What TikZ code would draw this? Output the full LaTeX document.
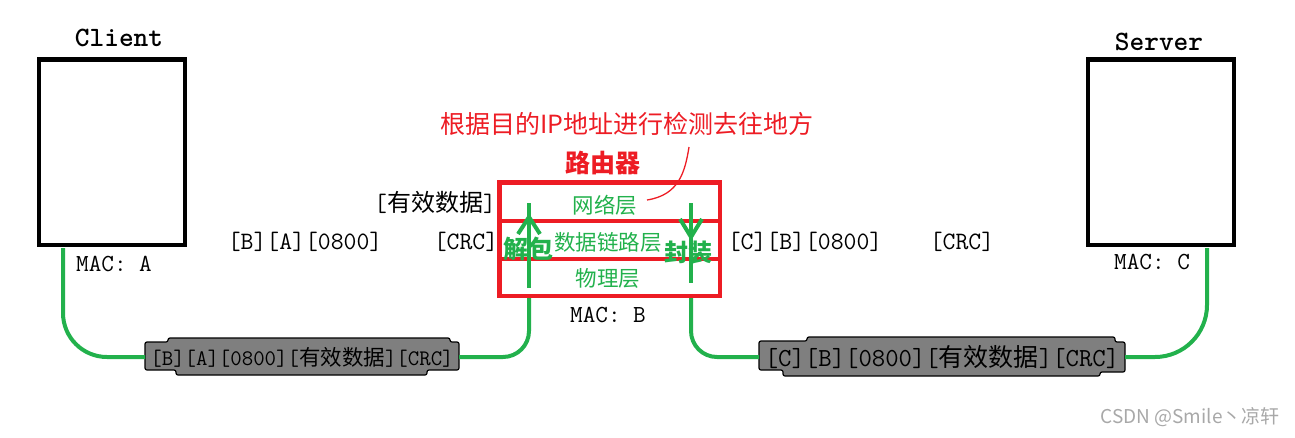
\documentclass[tikz,border=0pt]{standalone}
\usepackage{fontspec}
\newfontfamily\cjk{Noto Sans CJK SC}
\newfontfamily\wmfont{Noto Sans CJK SC}
\definecolor{pgreen}{HTML}{22B14C}
\definecolor{pred}{HTML}{ED1C24}
\definecolor{pgray}{HTML}{7F7F7F}
\definecolor{wmgray}{HTML}{A8A8A8}
\newcommand\cn[2]{{\cjk\fontsize{#1}{#1}\selectfont #2}}
\newcommand\mono[1]{\ttfamily\fontsize{#1}{#1}\selectfont}
\begin{document}
\begin{tikzpicture}[x=1pt,y=-1pt,inner sep=0pt,outer sep=0pt,
  hostbox/.style={draw=black,line width=4.5pt,minimum width=146pt,minimum height=185.5pt},
  hostlabel/.style={font=\mono{28}\bfseries},
  maclabel/.style={font=\mono{24.5}},
  routerbox/.style={draw=pred,line width=4.5pt,minimum width=220.5pt,minimum height=113.5pt},
  divider/.style={draw=pred,line width=4.5pt},
  layertext/.style={text=pgreen},
  cable/.style={draw=pgreen,line width=4pt},
  pillshape/.style={fill=pgray,draw=black,line width=1.2pt,rounded corners=2pt},
  pilltext/.style={text=black},
  frametext/.style={text=black}]
\useasboundingbox (0,0) rectangle (1295,437);

% hosts
\node[hostbox] (client) at (112,152) {};
\node[hostbox] (server) at (1161,152) {};
\node[hostlabel] (clientlbl) at (119,38) {Client};
\node[hostlabel] (serverlbl) at (1159,42) {Server};
\node[maclabel] (maca) at (114,264) {MAC: A};
\node[maclabel] (macc) at (1152,262) {MAC: C};
\node[maclabel] (macb) at (608,315) {MAC: B};

% router
\node[routerbox] (router) at (609.5,239) {};
\draw[divider] (router.west |- 0,221) -- (router.east |- 0,221);
\draw[divider] (router.west |- 0,259) -- (router.east |- 0,259);
\node[font=\cjk\fontsize{25}{25}\selectfont\bfseries,text=pred] (rtitle) at (603,163) {路由器};
\node[layertext,font=\cjk\fontsize{21.5}{21.5}\selectfont] (net) at (605,205) {网络层};
\node[layertext,font=\cjk\fontsize{21.5}{21.5}\selectfont] (dl) at (608,242) {数据链路层};
\node[layertext,font=\cjk\fontsize{21.5}{21.5}\selectfont] (phy) at (608,278) {物理层};

% annotation
\node[text=pred,font=\cjk\fontsize{25}{25}\selectfont] (anno) at (627,124) {根据目的IP地址进行检测去往地方};
\coordinate (a1) at (689,147);
\coordinate (a2) at (647,200);
\draw[pred,line width=1.3pt] (a1) .. controls (685,172) and (679,195) .. (a2);

% frame pieces
\node[frametext,font=\mono{25}] (data) at (435,202) {[\cn{24}{有效数据}]};
\node[frametext,font=\mono{25}] (hdrl) at (305,242) {[B][A][0800]};
\node[frametext,font=\mono{25}] (crcl) at (466,242) {[CRC]};
\node[frametext,font=\mono{25}] (hdrr) at (805,242) {[C][B][0800]};
\node[frametext,font=\mono{25}] (crcr) at (962,242) {[CRC]};

% pills
\draw[pillshape] (145,342) -- (145,370) -- (176,370) -- (176,375) -- (427,375) -- (427,370) -- (459,370) -- (459,342) -- (450,342) -- (450,338) -- (168,338) -- (168,342) -- cycle;
\draw[pillshape] (759,341) -- (759,370) -- (783,370) -- (783,376) -- (1100,376) -- (1100,372) -- (1125,372) -- (1125,342) -- (1115,342) -- (1115,337) -- (807,337) -- (807,341) -- cycle;
\node[pilltext,font=\mono{22.2},minimum width=314pt,minimum height=37pt] (p1) at (302,357) {[B][A][0800][\cn{21.5}{有效数据}][CRC]};
\node[pilltext,font=\mono{26},minimum width=366pt,minimum height=39pt] (p2) at (942,357) {[C][B][0800][\cn{25}{有效数据}][CRC]};

% cables
\coordinate (c1) at (63,248);
\coordinate (s1) at (1207,248);
\coordinate (r1) at (529,298);
\coordinate (r2) at (691,298);
\coordinate (u1) at (529,288);
\coordinate (u2) at (529,203);
\coordinate (d1) at (691,203);
\coordinate (d2) at (691,283);
\draw[cable,rounded corners=44pt] (c1) -- (c1 |- p1.west) -- (p1.west);
\draw[cable,rounded corners=26pt] (p1.east) -- (r1 |- p1.east) -- (r1);
\draw[cable,rounded corners=26pt] (r2) -- (r2 |- p2.west) -- (p2.west);
\draw[cable,rounded corners=52pt] (p2.east) -- (s1 |- p2.east) -- (s1);

% unpack / pack arrows
\draw[cable] (u1) -- (u2);
\draw[cable] (518,234) -- (529,217) -- (540,234);
\draw[cable] (d1) -- (d2);
\draw[cable] (680,219) -- (691,237) -- (702,219);
\node[text=pgreen,font=\cjk\fontsize{25}{25}\selectfont\bfseries] (unpack) at (528,249) {解包};
\node[text=pgreen,font=\cjk\fontsize{24}{24}\selectfont\bfseries] (pack) at (688,252) {封装};

% watermark
\node[text=wmgray,font=\wmfont\fontsize{19}{19}\selectfont] (wm) at (1190,417) {CSDN @Smile丶凉轩};
\end{tikzpicture}
\end{document}
